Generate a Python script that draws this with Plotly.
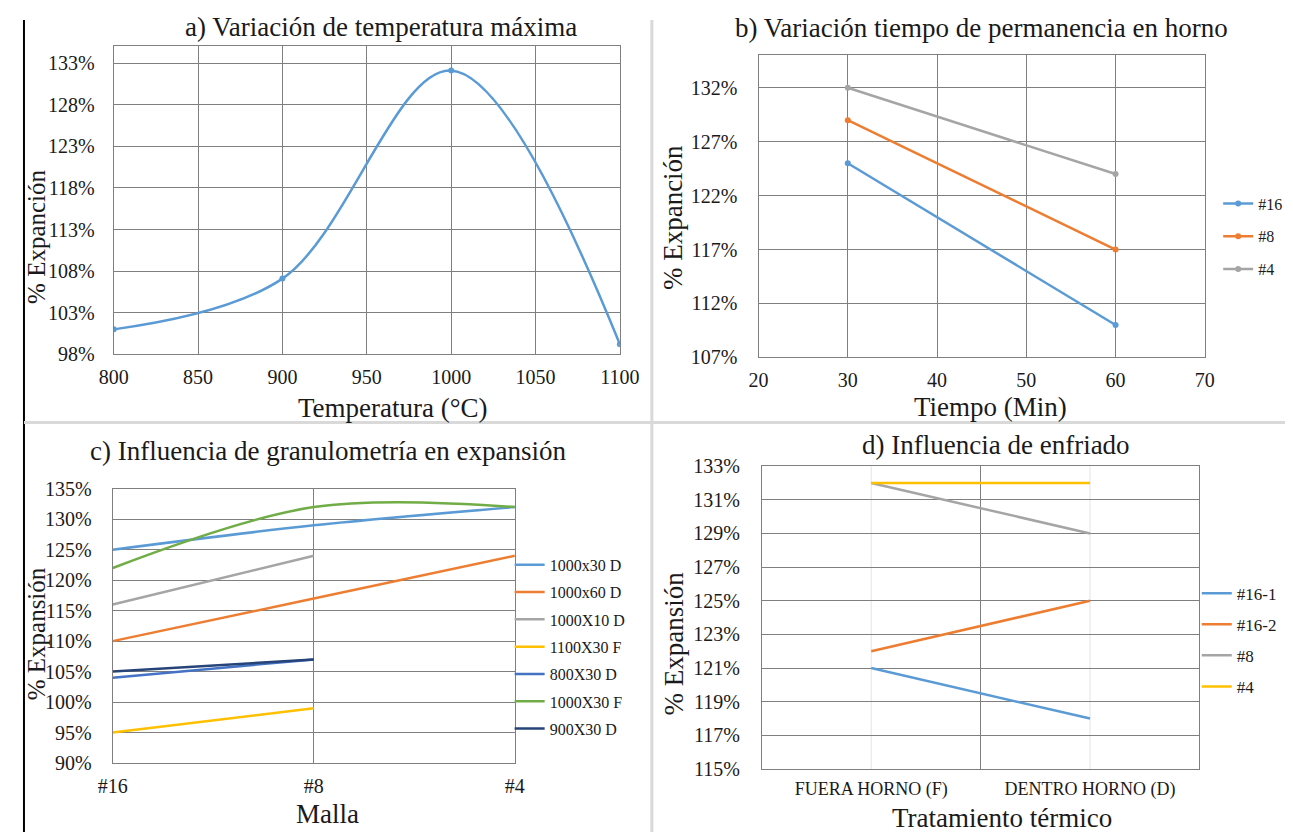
import plotly.graph_objects as go

# The photographed page shows the figure slightly scaled and offset; positions below
# are given in the reference picture's pixels and mapped into figure pixels.
SCALE = 0.973
OX, OY = 21.3, 19.0
W, H = 1310, 845
FONT = "Liberation Serif"
TXT = "#1a1a1a"
GRID = "#7f7f7f"

def fxp(p):  # reference px -> figure px
    return (p - OX) / SCALE

def fyp(p):
    return (p - OY) / SCALE

def fx(p):  # reference px -> paper fraction
    return fxp(p) / W

def fy(p):
    return 1 - fyp(p) / H

# ---------------- data ----------------
# a) temperature variation
temp_c = [800, 900, 1000, 1100]
exp_temp = [101.0, 107.1, 132.1, 99.2]

# b) time in furnace
time_min = [30, 60]
exp_time_16 = [125, 110]
exp_time_8 = [129, 117]
exp_time_4 = [132, 124]

# c) granulometry
mallas = ["#16", "#8", "#4"]
c_names = ["1000x30 D", "1000x60 D", "1000X10 D", "1100X30 F", "800X30 D", "1000X30 F", "900X30 D"]
c_1000x30D = [125, 129, 132]
c_1000x60D = [110, 117, 124]
c_1000x10D = [116, 124, None]
c_1100x30F = [95, 99, None]
c_800x30D = [104, 107, None]
c_1000x30F = [122, 132, 132]
c_900x30D = [105, 107, None]
c_colors = ["#5B9BD5", "#ED7D31", "#A5A5A5", "#FFC000", "#4472C4", "#70AD47", "#264478"]

# d) cooling
tratamientos = ["FUERA HORNO (F)", "DENTRO HORNO (D)"]
d_names = ["#16-1", "#16-2", "#8", "#4"]
d_16_1 = [121, 118]
d_16_2 = [122, 125]
d_8 = [132, 129]
d_4 = [132, 132]
d_colors = ["#5B9BD5", "#ED7D31", "#A5A5A5", "#FFC000"]

fig = go.Figure()

# a
fig.add_trace(go.Scatter(x=temp_c, y=exp_temp, mode="lines+markers",
                         line=dict(color="#5B9BD5", width=2.5, shape="spline", smoothing=1.0),
                         marker=dict(size=6, color="#5B9BD5"),
                         xaxis="x", yaxis="y", showlegend=False))

# b
for name, vals, col in [("#16", exp_time_16, "#5B9BD5"), ("#8", exp_time_8, "#ED7D31"), ("#4", exp_time_4, "#A5A5A5")]:
    fig.add_trace(go.Scatter(x=time_min, y=vals, mode="lines+markers", name=name,
                             line=dict(color=col, width=2.5), marker=dict(size=6, color=col),
                             xaxis="x2", yaxis="y2", legend="legend", legendgroup="b" + name))

# c
for name, vals, col in zip(c_names, [c_1000x30D, c_1000x60D, c_1000x10D, c_1100x30F, c_800x30D, c_1000x30F, c_900x30D], c_colors):
    fig.add_trace(go.Scatter(x=mallas, y=vals, mode="lines", name=name,
                             line=dict(color=col, width=2.5, shape="spline", smoothing=1.0),
                             xaxis="x3", yaxis="y3", legend="legend2", legendgroup="c" + name))

# d
for name, vals, col in zip(d_names, [d_16_1, d_16_2, d_8, d_4], d_colors):
    fig.add_trace(go.Scatter(x=tratamientos, y=vals, mode="lines", name=name,
                             line=dict(color=col, width=2.5),
                             xaxis="x4", yaxis="y4", legend="legend3", legendgroup="d" + name))

tick_font = dict(family=FONT, size=20, color=TXT)
axis_common = dict(showgrid=True, gridcolor=GRID, gridwidth=1, zeroline=False,
                   showline=True, linecolor=GRID, linewidth=1, mirror=True,
                   tickfont=tick_font, ticks="")

fig.update_layout(
    width=W, height=H, margin=dict(l=0, r=0, t=0, b=0),
    paper_bgcolor="white", plot_bgcolor="white",
    font=dict(family=FONT, color=TXT),
    xaxis=dict(domain=[fx(112), fx(618)], range=[800, 1100], dtick=50, anchor="y",
               ticklabelstandoff=5, **axis_common),
    yaxis=dict(domain=[fy(354), fy(46.4)], range=[98, 135], tick0=98, dtick=5, ticksuffix="%",
               anchor="x", ticklabelstandoff=14, **axis_common),
    xaxis2=dict(domain=[fx(756.6), fx(1202.8)], range=[20, 70], dtick=10, anchor="y2",
                ticklabelstandoff=5, **axis_common),
    yaxis2=dict(domain=[fy(357), fy(55.4)], range=[107, 135], tick0=107, dtick=5, ticksuffix="%",
                anchor="x2", ticklabelstandoff=16, **axis_common),
    xaxis3=dict(domain=[fx(111), fx(513)], type="category", range=[0, 2], anchor="y3",
                ticklabelstandoff=5, **axis_common),
    yaxis3=dict(domain=[fy(762.3), fy(488.3)], range=[90, 135], tick0=90, dtick=5, ticksuffix="%",
                anchor="x3", ticklabelstandoff=16, **axis_common),
    xaxis4=dict(domain=[fx(759.9), fx(1197.4)], type="category", range=[-0.5, 1.5], tickson="boundaries",
                anchor="y4", ticklabelstandoff=3,
                **{**axis_common, "tickfont": dict(family=FONT, size=18, color=TXT)}),
    yaxis4=dict(domain=[fy(768.3), fy(465.7)], range=[115, 133], tick0=115, dtick=2, ticksuffix="%",
                anchor="x4", ticklabelstandoff=17, **axis_common),
    legend=dict(x=1228 / W, y=1 - 172 / H, xanchor="left", yanchor="top",
                font=dict(family=FONT, size=16, color=TXT), tracegroupgap=9,
                bgcolor="rgba(0,0,0,0)", itemwidth=30),
    legend2=dict(x=500 / W, y=1 - 543 / H, xanchor="left", yanchor="top",
                 font=dict(family=FONT, size=16, color=TXT), tracegroupgap=3.5,
                 bgcolor="rgba(0,0,0,0)", itemwidth=30),
    legend3=dict(x=1206 / W, y=1 - 571.5 / H, xanchor="left", yanchor="top",
                 font=dict(family=FONT, size=17, color=TXT), tracegroupgap=6,
                 bgcolor="rgba(0,0,0,0)", itemwidth=30),
)

# faint vertical lines at category positions in panel d
for cat in tratamientos:
    fig.add_shape(type="line", xref="x4", yref="y4", x0=cat, x1=cat, y0=115, y1=133,
                  line=dict(color="#e3e3e3", width=1), layer="below")

# titles and axis titles (reference px)
annots = [
    ("a) Variación de temperatura máxima", 379, 27, 0, 27),
    ("b) Variación tiempo de permanencia en horno", 980, 28, 0, 27),
    ("c) Influencia de granulometría en expansión", 327, 451, 0, 27),
    ("d) Influencia de enfriado", 994, 445, 0, 27),
    ("Temperatura (°C)", 391, 408, 0, 27),
    ("Tiempo (Min)", 989, 407, 0, 27),
    ("Malla", 326, 813, 0, 27),
    ("Tratamiento térmico", 1000, 817, 0, 27),
    ("% Expanción", 35, 237, -90, 25),
    ("% Expanción", 671, 217, -90, 27),
    ("% Expansión", 35, 633, -90, 25),
    ("% Expansión", 672, 643, -90, 27),
]
for text, x, y, ang, size in annots:
    fig.add_annotation(text=text, x=fx(x), y=fy(y), xref="paper", yref="paper",
                       showarrow=False, xanchor="center", yanchor="middle",
                       textangle=ang, font=dict(family=FONT, size=size, color=TXT))

# panel frames (figure px)
frame = [
    (1, 1, 1, H, "#000000", 2),
    (fxp(1291), 1, fxp(1291), H, "#9a9a9a", 2),
    (fxp(650), 1, fxp(650), H, "#d9d9d9", 3),
    (1, fyp(422), fxp(1291), fyp(422), "#d9d9d9", 3),
]
for x0, y0, x1, y1, col, w in frame:
    fig.add_shape(type="line", xref="paper", yref="paper", x0=x0 / W, y0=1 - y0 / H, x1=x1 / W, y1=1 - y1 / H,
                  line=dict(color=col, width=w))

fig.write_html("out.html")
